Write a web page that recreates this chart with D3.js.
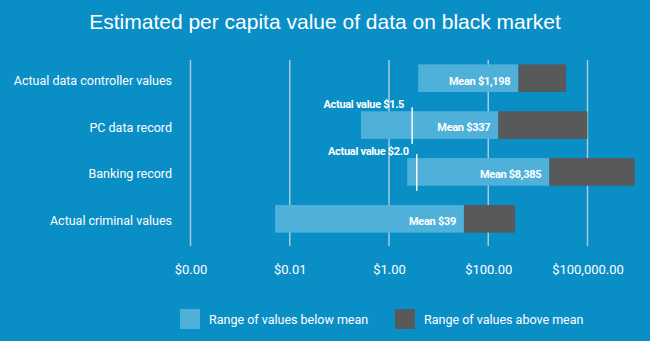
<!DOCTYPE html>
<html>
<head>
<meta charset="utf-8">
<script src="https://cdn.jsdelivr.net/npm/d3@7"></script>
<style>
  html, body { margin: 0; padding: 0; background: #0a8ec6; }
  svg { display: block; }
</style>
</head>
<body>
<svg id="chart" width="650" height="341"></svg>
<script>
// Data
const categories = ['Actual data controller values', 'PC data record', 'Banking record', 'Actual criminal values'];
const rangeLow = [2.2, 0.06, 1.1, 0.00027];
const meanValues = [1198, 337, 8385, 39];
const rangeHigh = [24000, 92000, 1800000, 970];
const meanLabels = ['Mean $1,198', 'Mean $337', 'Mean $8,385', 'Mean $39'];
const actualValues = [null, 1.5, 2.0, null];
const actualLabels = [null, 'Actual value $1.5', 'Actual value $2.0', null];
const tickLabels = ['$0.00', '$0.01', '$1.00', '$100.00', '$100,000.00'];
const legendLabels = ['Range of values below mean', 'Range of values above mean'];

const lightBlue = '#4fb1da';
const darkGrey = '#58595b';
const gridColor = '#a9c9dc';

const svg = d3.select('#chart');

svg.append('text')
  .attr('x', 325)
  .attr('y', 28.5)
  .attr('text-anchor', 'middle')
  .attr('fill', '#fff')
  .style('font-family', 'Liberation Sans, Arial, sans-serif')
  .style('font-size', '21px')
  .text('Estimated per capita value of data on black market');

// log scale for the bars, point scale for the (evenly spaced) axis labels
const x = d3.scaleLog().domain([0.01, 100000]).range([332.5, 588.7]);
const axisX = d3.scalePoint().domain(tickLabels).range([190.5, 587.5]);
const y = d3.scaleBand().domain(categories).range([55, 242]).paddingInner(0.41).paddingOuter(0.2);

// grid
svg.append('g')
  .selectAll('line')
  .data(tickLabels)
  .join('line')
  .attr('x1', d => axisX(d))
  .attr('x2', d => axisX(d))
  .attr('y1', 60)
  .attr('y2', 246)
  .attr('stroke', gridColor)
  .attr('stroke-width', 1.5);

const xAxis = svg.append('g')
  .attr('transform', 'translate(0,246)')
  .call(d3.axisBottom(axisX).tickSize(0).tickPadding(19));
xAxis.select('.domain').remove();
xAxis.selectAll('text')
  .attr('fill', '#fff')
  .style('font-family', 'Roboto, sans-serif')
  .style('font-size', '13px');

// category labels
const yAxis = svg.append('g')
  .attr('transform', 'translate(172,2.5)')
  .call(d3.axisLeft(y).tickSize(0).tickPadding(0));
yAxis.select('.domain').remove();
yAxis.selectAll('text')
  .attr('fill', '#fff')
  .style('font-family', 'Roboto, sans-serif')
  .style('font-size', '12.5px');

const rows = categories.map((c, i) => ({
  cat: c, low: rangeLow[i], mean: meanValues[i], high: rangeHigh[i],
  label: meanLabels[i], actual: actualValues[i], actualLabel: actualLabels[i]
}));

// bars
const bars = svg.append('g');
bars.selectAll('.below')
  .data(rows)
  .join('rect')
  .attr('x', d => x(d.low))
  .attr('y', d => y(d.cat))
  .attr('width', d => x(d.mean) - x(d.low))
  .attr('height', y.bandwidth())
  .attr('fill', lightBlue);
bars.selectAll('.above')
  .data(rows)
  .join('rect')
  .attr('x', d => x(d.mean))
  .attr('y', d => y(d.cat))
  .attr('width', d => x(d.high) - x(d.mean))
  .attr('height', y.bandwidth())
  .attr('fill', darkGrey);

bars.selectAll('text')
  .data(rows)
  .join('text')
  .attr('x', d => x(d.mean) - 8)
  .attr('y', d => y(d.cat) + y.bandwidth() / 2 + 2.5)
  .attr('dy', '0.35em')
  .attr('text-anchor', 'end')
  .attr('fill', '#fff')
  .style('font-family', 'Roboto, sans-serif')
  .style('font-weight', 700)
  .style('font-size', '11px')
  .style('letter-spacing', '-0.3px')
  .text(d => d.label);

// actual value markers
const actual = rows.filter(d => d.actual != null);
const marks = svg.append('g');
marks.selectAll('line')
  .data(actual)
  .join('line')
  .attr('x1', d => x(d.actual))
  .attr('x2', d => x(d.actual))
  .attr('y1', d => y(d.cat) - 4)
  .attr('y2', d => y(d.cat) + y.bandwidth() + 5)
  .attr('stroke', '#fff')
  .attr('stroke-width', 1.5);
marks.selectAll('text')
  .data(actual)
  .join('text')
  .attr('x', d => x(d.actual) - 8)
  .attr('y', d => y(d.cat) - 3)
  .attr('text-anchor', 'end')
  .attr('fill', '#fff')
  .style('font-family', 'Roboto, sans-serif')
  .style('font-weight', 700)
  .style('font-size', '11px')
  .style('letter-spacing', '-0.3px')
  .text(d => d.actualLabel);

// legend
const legend = svg.append('g').attr('transform', 'translate(180,309)');
const legendItems = legend.selectAll('g')
  .data(legendLabels)
  .join('g')
  .attr('transform', (d, i) => `translate(${i * 215},0)`);
legendItems.append('rect')
  .attr('width', 20)
  .attr('height', 20)
  .attr('fill', (d, i) => i === 0 ? lightBlue : darkGrey);
legendItems.append('text')
  .attr('x', 29)
  .attr('y', 11)
  .attr('dy', '0.35em')
  .attr('fill', '#fff')
  .style('font-family', 'Roboto, sans-serif')
  .style('font-size', '12.5px')
  .text(d => d);
</script>
</body>
</html>
